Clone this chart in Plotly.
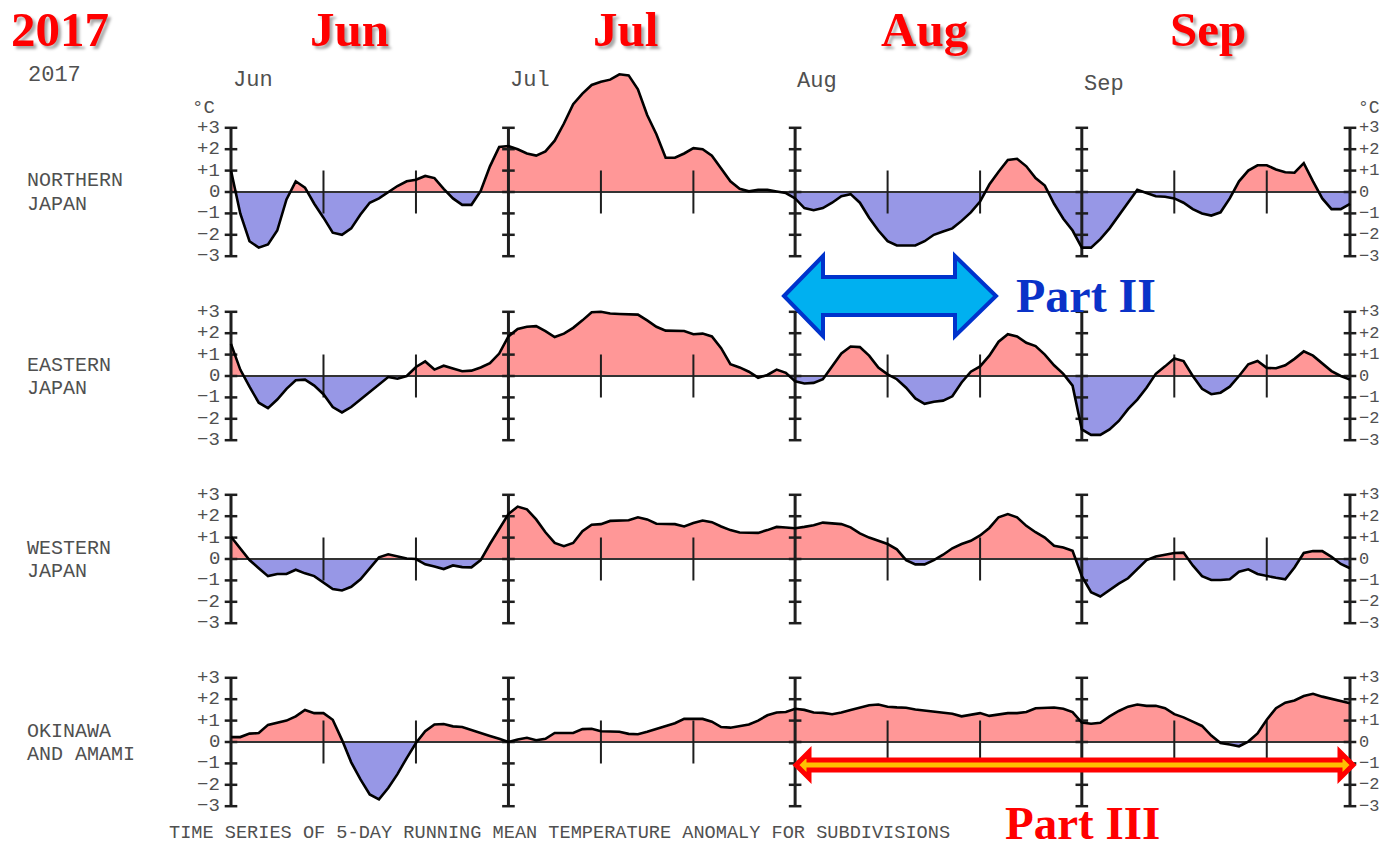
import pandas as pd
import plotly.graph_objects as go

# ---------------------------------------------------------------------------
# Data: 5-day running mean temperature anomaly (degC), 1 Jun - 30 Sep 2017
# ---------------------------------------------------------------------------
dates = pd.date_range("2017-06-01", "2017-09-30", freq="D")

northern = [
    1.0, -1.0, -2.3, -2.6, -2.45, -1.8, -0.35, 0.5, 0.2, -0.55,
    -1.2, -1.9, -2.0, -1.7, -1.05, -0.5, -0.3, 0.0, 0.28, 0.5,
    0.57, 0.75, 0.65, 0.15, -0.3, -0.6, -0.6, 0.05, 1.2, 2.1,
    2.15, 2.0, 1.8, 1.7, 1.9, 2.4, 3.2, 4.1, 4.6, 5.0,
    5.15, 5.25, 5.5, 5.45, 4.8, 3.6, 2.7, 1.6, 1.6, 1.8,
    2.05, 2.0, 1.7, 1.1, 0.5, 0.15, 0.03, 0.1, 0.1, 0.02,
    -0.05, -0.3, -0.75, -0.85, -0.75, -0.5, -0.2, -0.1, -0.5, -1.2,
    -1.8, -2.3, -2.5, -2.5, -2.5, -2.3, -2.0, -1.85, -1.7, -1.35,
    -0.95, -0.45, 0.35, 0.95, 1.5, 1.55, 1.2, 0.65, 0.3, -0.55,
    -1.25, -1.8, -2.6, -2.6, -2.2, -1.7, -1.1, -0.45, 0.1, -0.05,
    -0.2, -0.22, -0.3, -0.5, -0.8, -1.0, -1.1, -0.95, -0.3, 0.5,
    1.0, 1.25, 1.25, 1.05, 0.92, 0.9, 1.35, 0.5, -0.3, -0.8,
    -0.8, -0.55,
]

eastern = [
    1.5, 0.3, -0.5, -1.25, -1.5, -1.1, -0.6, -0.2, -0.17, -0.45,
    -0.85, -1.45, -1.7, -1.45, -1.1, -0.75, -0.4, -0.05, -0.13, 0.0,
    0.42, 0.68, 0.3, 0.48, 0.35, 0.22, 0.25, 0.4, 0.6, 1.05,
    1.85, 2.2, 2.3, 2.33, 2.1, 1.82, 1.98, 2.25, 2.6, 2.98,
    3.0, 2.92, 2.9, 2.9, 2.87, 2.6, 2.3, 2.12, 2.1, 2.1,
    1.95, 1.98, 1.85, 1.3, 0.55, 0.4, 0.2, -0.08, 0.05, 0.3,
    0.15, -0.25, -0.35, -0.32, -0.15, 0.45, 1.05, 1.38, 1.35, 0.95,
    0.4, 0.08, -0.15, -0.55, -1.05, -1.3, -1.2, -1.15, -0.95, -0.3,
    0.2, 0.45, 0.95, 1.6, 1.95, 1.85, 1.55, 1.4, 1.0, 0.5,
    0.1, -0.45, -2.5, -2.75, -2.75, -2.5, -2.1, -1.55, -1.1, -0.55,
    0.1, 0.45, 0.82, 0.7, 0.0, -0.6, -0.85, -0.78, -0.5, 0.0,
    0.55, 0.7, 0.38, 0.36, 0.5, 0.8, 1.15, 0.95, 0.6, 0.23,
    0.0, -0.17,
]

western = [
    1.04, 0.5, -0.05, -0.43, -0.8, -0.7, -0.7, -0.5, -0.67, -0.8,
    -1.1, -1.4, -1.47, -1.3, -0.95, -0.45, 0.08, 0.22, 0.12, 0.02,
    0.0, -0.25, -0.35, -0.47, -0.3, -0.38, -0.39, -0.05, 0.7, 1.4,
    2.1, 2.45, 2.32, 1.85, 1.25, 0.75, 0.6, 0.75, 1.3, 1.6,
    1.63, 1.78, 1.81, 1.81, 1.95, 1.85, 1.65, 1.63, 1.63, 1.52,
    1.68, 1.8, 1.72, 1.52, 1.35, 1.24, 1.22, 1.22, 1.35, 1.5,
    1.47, 1.44, 1.5, 1.58, 1.7, 1.68, 1.63, 1.48, 1.2, 1.0,
    0.85, 0.7, 0.45, -0.05, -0.25, -0.25, -0.05, 0.2, 0.5, 0.7,
    0.85, 1.1, 1.45, 1.95, 2.1, 1.95, 1.55, 1.25, 1.0, 0.62,
    0.54, 0.38, -0.8, -1.55, -1.75, -1.45, -1.15, -0.9, -0.45, -0.05,
    0.12, 0.2, 0.28, 0.3, -0.3, -0.8, -0.98, -0.98, -0.95, -0.59,
    -0.48, -0.7, -0.8, -0.88, -0.95, -0.4, 0.28, 0.37, 0.37, 0.1,
    -0.23, -0.43,
]

okinawa = [
    0.23, 0.23, 0.39, 0.42, 0.8, 0.9, 1.0, 1.2, 1.5, 1.35,
    1.35, 1.04, 0.1, -0.95, -1.75, -2.45, -2.68, -2.15, -1.5, -0.75,
    -0.05, 0.5, 0.82, 0.84, 0.73, 0.7, 0.55, 0.4, 0.28, 0.15,
    0.0, 0.12, 0.2, 0.08, 0.15, 0.42, 0.42, 0.42, 0.6, 0.62,
    0.5, 0.48, 0.48, 0.38, 0.36, 0.48, 0.62, 0.75, 0.88, 1.08,
    1.08, 1.08, 0.95, 0.7, 0.67, 0.75, 0.82, 1.0, 1.25, 1.38,
    1.4, 1.55, 1.5, 1.38, 1.36, 1.3, 1.38, 1.5, 1.6, 1.72,
    1.75, 1.65, 1.62, 1.6, 1.52, 1.47, 1.43, 1.4, 1.32, 1.2,
    1.28, 1.35, 1.22, 1.28, 1.35, 1.35, 1.4, 1.58, 1.61, 1.61,
    1.55, 1.4, 0.91, 0.85, 0.9, 1.2, 1.45, 1.65, 1.75, 1.69,
    1.69, 1.58, 1.3, 1.15, 0.95, 0.75, 0.3, -0.05, -0.12, -0.2,
    0.02, 0.4, 1.04, 1.58, 1.84, 1.94, 2.15, 2.25, 2.12, 2.02,
    1.92, 1.81,
]

series = [northern, eastern, western, okinawa]
region_lines = [("NORTHERN", "JAPAN"), ("EASTERN", "JAPAN"),
                ("WESTERN", "JAPAN"), ("OKINAWA", "AND AMAMI")]

y_tick_vals = [3, 2, 1, 0, -1, -2, -3]
y_tick_text = ["+3", "+2", "+1", "0", "\u22121", "\u22122", "\u22123"]

month_starts = ["2017-06-01", "2017-07-01", "2017-08-01", "2017-09-01"]
month_names = ["Jun", "Jul", "Aug", "Sep"]
axis_dates = month_starts + ["2017-09-30"]
minor_dates = ["2017-06-11", "2017-06-21", "2017-07-11", "2017-07-21",
               "2017-08-11", "2017-08-21", "2017-09-11", "2017-09-21"]

# ---------------------------------------------------------------------------
# Geometry (pixels on a 1381 x 850 canvas)
# ---------------------------------------------------------------------------
W, H = 1381, 850
X_START_PX, X_END_PX = 231, 1350          # 1 Jun and 30 Sep
PX_PER_DAY = (X_END_PX - X_START_PX) / 121
PX_PER_DEG = 21.4
zero_px = [192, 376, 559, 742]
y_ranges = [(-3.4, 6.0), (-3.4, 3.4), (-3.4, 3.4), (-3.4, 3.4)]

POS_FILL = "#ff9797"
NEG_FILL = "#9797e6"
AXIS_CLR = "#1e1e1e"
TEXT_CLR = "#505050"
MONO = "Liberation Mono, Courier New, monospace"
SERIF = "Liberation Serif, Times New Roman, serif"


def px(x):
    return x / W


def py(y):
    return 1 - y / H


def split_fill(xs, vals):
    """Positive / negative parts with the zero crossings inserted."""
    out_x, pos, neg = [], [], []
    for i, (d, v) in enumerate(zip(xs, vals)):
        if i > 0:
            pv = vals[i - 1]
            if (pv > 0 > v) or (pv < 0 < v):
                f = pv / (pv - v)
                out_x.append(xs[i - 1] + (d - xs[i - 1]) * f)
                pos.append(0.0)
                neg.append(0.0)
        out_x.append(d)
        pos.append(max(v, 0.0))
        neg.append(min(v, 0.0))
    return out_x, pos, neg


fig = go.Figure()
layout_axes = {}

for i, vals in enumerate(series):
    yname = "y" if i == 0 else f"y{i + 1}"
    lo, hi = y_ranges[i]
    bottom_px = zero_px[i] - lo * PX_PER_DEG
    top_px = zero_px[i] - hi * PX_PER_DEG
    key = "yaxis" if i == 0 else f"yaxis{i + 1}"
    layout_axes[key] = dict(domain=[py(bottom_px), py(top_px)], range=[lo, hi],
                            visible=False, fixedrange=True, anchor="x")

    fx, fpos, fneg = split_fill(list(dates), vals)
    fig.add_trace(go.Scatter(x=fx, y=fpos, yaxis=yname, mode="lines",
                             line=dict(width=0), fill="tozeroy",
                             fillcolor=POS_FILL, hoverinfo="skip"))
    fig.add_trace(go.Scatter(x=fx, y=fneg, yaxis=yname, mode="lines",
                             line=dict(width=0), fill="tozeroy",
                             fillcolor=NEG_FILL, hoverinfo="skip"))

    # zero line
    fig.add_trace(go.Scatter(x=[dates[0], dates[-1]], y=[0, 0], yaxis=yname,
                             mode="lines", line=dict(color="#333333", width=2),
                             hoverinfo="skip"))

    # month axes (-3 .. +3)
    ax_x, ax_y = [], []
    for d in axis_dates:
        ax_x += [d, d, None]
        ax_y += [-3, 3, None]
    fig.add_trace(go.Scatter(x=ax_x, y=ax_y, yaxis=yname, mode="lines",
                             line=dict(color=AXIS_CLR, width=3), hoverinfo="skip"))

    # integer tick marks on each month axis
    tk_x = [d for d in axis_dates for _ in y_tick_vals]
    tk_y = [t for _ in axis_dates for t in y_tick_vals]
    fig.add_trace(go.Scatter(x=tk_x, y=tk_y, yaxis=yname, mode="markers",
                             marker=dict(symbol="line-ew", size=9,
                                         line=dict(color=AXIS_CLR, width=2.5)),
                             cliponaxis=False, hoverinfo="skip"))

    # 10-day ticks (-1 .. +1)
    mn_x, mn_y = [], []
    for d in minor_dates:
        mn_x += [d, d, None]
        mn_y += [-1, 1, None]
    fig.add_trace(go.Scatter(x=mn_x, y=mn_y, yaxis=yname, mode="lines",
                             line=dict(color=AXIS_CLR, width=2), hoverinfo="skip"))

    # anomaly curve
    fig.add_trace(go.Scatter(x=dates, y=vals, yaxis=yname, mode="lines",
                             line=dict(color="black", width=2.6)))

annotations = []

# y tick labels, left and right
for i in range(4):
    yref = "y" if i == 0 else f"y{i + 1}"
    for v, t in zip(y_tick_vals, y_tick_text):
        annotations.append(dict(x=px(221), y=v, xref="paper", yref=yref,
                                text=t, showarrow=False, xanchor="right",
                                yanchor="middle", borderpad=0,
                                font=dict(family=MONO, size=19, color=TEXT_CLR)))
        annotations.append(dict(x=px(1358), y=v, xref="paper", yref=yref,
                                text=t, showarrow=False, xanchor="left",
                                yanchor="middle", borderpad=0,
                                font=dict(family=MONO, size=17, color=TEXT_CLR)))
    line1, line2 = region_lines[i]
    annotations.append(dict(x=px(26), y=py(zero_px[i] - 11), xref="paper",
                            yref="paper", text=line1, showarrow=False,
                            xanchor="left", yanchor="middle", borderpad=0,
                            font=dict(family=MONO, size=20, color=TEXT_CLR)))
    annotations.append(dict(x=px(26), y=py(zero_px[i] + 12), xref="paper",
                            yref="paper", text=line2, showarrow=False,
                            xanchor="left", yanchor="middle", borderpad=0,
                            font=dict(family=MONO, size=20, color=TEXT_CLR)))

# degree-unit labels
for xpos, anchor, size in [(216, "right", 19), (1357, "left", 18)]:
    annotations.append(dict(x=px(xpos), y=py(108), xref="paper", yref="paper",
                            text="\u00b0C", showarrow=False, xanchor=anchor,
                            yanchor="middle", borderpad=0,
                            font=dict(family=MONO, size=size, color=TEXT_CLR)))

# small year / month headings
annotations.append(dict(x=px(26), y=py(76), xref="paper", yref="paper",
                        text="2017", showarrow=False, xanchor="left",
                        yanchor="middle",
                        font=dict(family=MONO, size=22, color=TEXT_CLR)))
for d, name, ypix in zip(month_starts, month_names, [80, 80, 82, 84]):
    annotations.append(dict(x=d, y=py(ypix), xref="x", yref="paper",
                            text=name, showarrow=False, xanchor="left",
                            yanchor="middle", xshift=0,
                            font=dict(family=MONO, size=22, color=TEXT_CLR)))

# caption
annotations.append(dict(x=px(167), y=py(833), xref="paper", yref="paper",
                        text="TIME SERIES OF 5-DAY RUNNING MEAN TEMPERATURE "
                             "ANOMALY FOR SUBDIVISIONS",
                        showarrow=False, xanchor="left", yanchor="middle",
                        font=dict(family=MONO, size=18.6, color=TEXT_CLR)))

# large red headings
big_font = dict(family=SERIF, size=49, color="#ff0000", weight="bold",
                shadow="3px 3px 3px rgba(0,0,0,0.35)")
annotations.append(dict(x=px(60), y=py(30), xref="paper", yref="paper",
                        text="2017", showarrow=False, xanchor="center",
                        yanchor="middle", font=big_font))
for name, cx in zip(month_names, [349, 625, 925, 1208]):
    annotations.append(dict(x=px(cx), y=py(30), xref="paper", yref="paper",
                            text=name, showarrow=False, xanchor="center",
                            yanchor="middle", font=big_font))

annotations.append(dict(x=px(1014), y=py(296), xref="paper", yref="paper",
                        text="Part II", showarrow=False, xanchor="left",
                        yanchor="middle",
                        font=dict(family=SERIF, size=48, color="#0a32c8",
                                  weight="bold")))
annotations.append(dict(x=px(1004), y=0, xref="paper", yref="paper",
                        text="Part III", showarrow=False, xanchor="left",
                        yanchor="bottom", borderpad=0,
                        font=dict(family=SERIF, size=47, color="#ff0000",
                                  weight="bold")))


def path_from(points):
    return "M " + " L ".join(f"{px(x):.5f},{py(y):.5f}" for x, y in points) + " Z"


shapes = [
    # Part II double arrow
    dict(type="path", xref="paper", yref="paper",
         path=path_from([(784, 296), (823, 256), (823, 277), (955, 277),
                         (955, 256), (996, 296), (955, 336), (955, 315),
                         (823, 315), (823, 336)]),
         fillcolor="#00b0f0", line=dict(color="#0033cc", width=4), layer="above"),
    # Part III double arrow
    dict(type="path", xref="paper", yref="paper",
         path=path_from([(796, 765), (809, 752), (809, 760), (1340, 760),
                         (1340, 752), (1353, 765), (1340, 778), (1340, 770),
                         (809, 770), (809, 778)]),
         fillcolor="#ffc000", line=dict(color="#ff0000", width=5), layer="above"),
]

x_lo = pd.Timestamp("2017-05-31")
x_hi = pd.Timestamp("2017-10-01")
fig.update_layout(
    width=W, height=H,
    margin=dict(l=0, r=0, t=0, b=0),
    paper_bgcolor="white", plot_bgcolor="white",
    showlegend=False,
    xaxis=dict(domain=[px(X_START_PX - PX_PER_DAY), px(X_END_PX + PX_PER_DAY)],
               range=[x_lo, x_hi], type="date", visible=False, fixedrange=True),
    annotations=annotations,
    shapes=shapes,
    **layout_axes,
)

fig.write_html("out.html")
